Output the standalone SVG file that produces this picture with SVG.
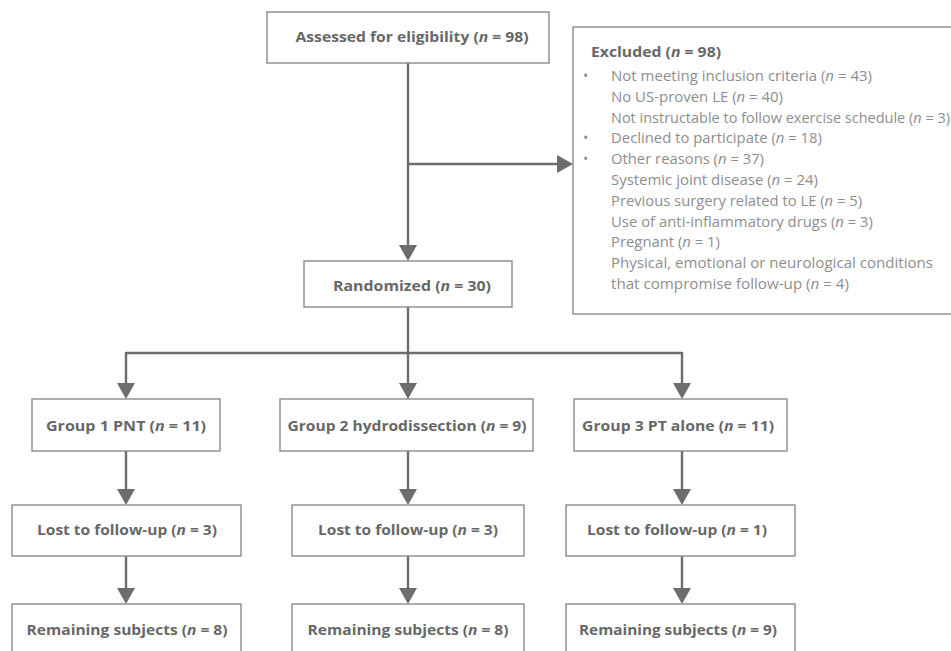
<svg xmlns="http://www.w3.org/2000/svg" width="951" height="651" viewBox="0 0 951 651">
<style>
.box{fill:#fff;stroke:#8a8a8a;stroke-width:1.4}
.lbl{font-family:"Open Sans","Noto Sans",sans-serif;font-weight:700;font-size:15px;fill:#686868;text-anchor:middle}
.lst{font-family:"Open Sans","Noto Sans",sans-serif;font-weight:400;font-size:14px;fill:#8e8e8e}
.hd{font-family:"Open Sans","Noto Sans",sans-serif;font-weight:700;font-size:15px;fill:#686868}
.it{font-style:italic}
.con{fill:none;stroke:#6d6d6d;stroke-width:2.4}
</style>
<defs>
<marker id="ah" markerUnits="userSpaceOnUse" markerWidth="16" markerHeight="18" refX="13" refY="9" orient="auto">
<path d="M0,0 L16,9 L0,18 Z" fill="#6d6d6d"/>
</marker>
</defs>
<rect width="951" height="651" fill="#fff"/>
<g id="connectors">
<path class="con" d="M408,63 V258" marker-end="url(#ah)"/>
<path class="con" d="M408,164 H570" marker-end="url(#ah)"/>
<path class="con" d="M408,307 V396" marker-end="url(#ah)"/>
<path class="con" d="M126,353 H682"/>
<path class="con" d="M126,352 V396" marker-end="url(#ah)"/>
<path class="con" d="M682,352 V396" marker-end="url(#ah)"/>
<path class="con" d="M126,451 V502" marker-end="url(#ah)"/>
<path class="con" d="M408,451 V502" marker-end="url(#ah)"/>
<path class="con" d="M682,451 V502" marker-end="url(#ah)"/>
<path class="con" d="M126,556 V601" marker-end="url(#ah)"/>
<path class="con" d="M408,556 V601" marker-end="url(#ah)"/>
<path class="con" d="M682,556 V601" marker-end="url(#ah)"/>
</g>
<g id="assessed">
<rect class="box" x="267" y="12" width="282" height="51"/>
<text class="lbl" x="412" y="42" textLength="233" lengthAdjust="spacingAndGlyphs">Assessed for eligibility (<tspan class="it">n</tspan> = 98)</text>
</g>
<g id="excluded">
<rect class="box" x="573" y="27" width="400" height="287"/>
<text class="hd" x="591" y="57" textLength="130" lengthAdjust="spacingAndGlyphs">Excluded (<tspan class="it">n</tspan> = 98)</text>
<text class="lst" x="583" y="81">•</text>
<text class="lst" x="611" y="81" textLength="261" lengthAdjust="spacingAndGlyphs">Not meeting inclusion criteria (<tspan class="it">n</tspan> = 43)</text>
<text class="lst" x="611" y="102" textLength="172" lengthAdjust="spacingAndGlyphs">No US-proven LE (<tspan class="it">n</tspan> = 40)</text>
<text class="lst" x="611" y="123" textLength="339" lengthAdjust="spacingAndGlyphs">Not instructable to follow exercise schedule (<tspan class="it">n</tspan> = 3)</text>
<text class="lst" x="583" y="143">•</text>
<text class="lst" x="611" y="143" textLength="211" lengthAdjust="spacingAndGlyphs">Declined to participate (<tspan class="it">n</tspan> = 18)</text>
<text class="lst" x="583" y="164">•</text>
<text class="lst" x="611" y="164" textLength="153" lengthAdjust="spacingAndGlyphs">Other reasons (<tspan class="it">n</tspan> = 37)</text>
<text class="lst" x="611" y="185" textLength="207" lengthAdjust="spacingAndGlyphs">Systemic joint disease (<tspan class="it">n</tspan> = 24)</text>
<text class="lst" x="611" y="206" textLength="251" lengthAdjust="spacingAndGlyphs">Previous surgery related to LE (<tspan class="it">n</tspan> = 5)</text>
<text class="lst" x="611" y="227" textLength="262" lengthAdjust="spacingAndGlyphs">Use of anti-inflammatory drugs (<tspan class="it">n</tspan> = 3)</text>
<text class="lst" x="611" y="247" textLength="109" lengthAdjust="spacingAndGlyphs">Pregnant (<tspan class="it">n</tspan> = 1)</text>
<text class="lst" x="611" y="268" textLength="322" lengthAdjust="spacingAndGlyphs">Physical, emotional or neurological  conditions</text>
<text class="lst" x="611" y="289" textLength="238" lengthAdjust="spacingAndGlyphs">that compromise follow-up (<tspan class="it">n</tspan> = 4)</text>
</g>
<g id="randomized">
<rect class="box" x="304" y="261" width="208" height="46"/>
<text class="lbl" x="412" y="291" textLength="158" lengthAdjust="spacingAndGlyphs">Randomized (<tspan class="it">n</tspan> = 30)</text>
</g>
<g id="group1">
<rect class="box" x="32" y="399" width="188" height="52"/>
<text class="lbl" x="126" y="431" textLength="160" lengthAdjust="spacingAndGlyphs">Group 1 PNT (<tspan class="it">n</tspan> = 11)</text>
</g>
<g id="group2">
<rect class="box" x="280" y="399" width="253" height="52"/>
<text class="lbl" x="407" y="431" textLength="239" lengthAdjust="spacingAndGlyphs">Group 2 hydrodissection (<tspan class="it">n</tspan> = 9)</text>
</g>
<g id="group3">
<rect class="box" x="574" y="399" width="213" height="52"/>
<text class="lbl" x="678" y="431" textLength="192" lengthAdjust="spacingAndGlyphs">Group 3 PT alone (<tspan class="it">n</tspan> = 11)</text>
</g>
<g id="lost1">
<rect class="box" x="12" y="505" width="229" height="51"/>
<text class="lbl" x="127" y="535" textLength="180" lengthAdjust="spacingAndGlyphs">Lost to follow-up (<tspan class="it">n</tspan> = 3)</text>
</g>
<g id="lost2">
<rect class="box" x="292" y="505" width="232" height="51"/>
<text class="lbl" x="408" y="535" textLength="180" lengthAdjust="spacingAndGlyphs">Lost to follow-up (<tspan class="it">n</tspan> = 3)</text>
</g>
<g id="lost3">
<rect class="box" x="566" y="505" width="229" height="51"/>
<text class="lbl" x="677" y="535" textLength="180" lengthAdjust="spacingAndGlyphs">Lost to follow-up (<tspan class="it">n</tspan> = 1)</text>
</g>
<g id="remaining1">
<rect class="box" x="12" y="604" width="229" height="60"/>
<text class="lbl" x="127" y="635" textLength="201" lengthAdjust="spacingAndGlyphs">Remaining subjects (<tspan class="it">n</tspan> = 8)</text>
</g>
<g id="remaining2">
<rect class="box" x="292" y="604" width="232" height="60"/>
<text class="lbl" x="408" y="635" textLength="201" lengthAdjust="spacingAndGlyphs">Remaining subjects (<tspan class="it">n</tspan> = 8)</text>
</g>
<g id="remaining3">
<rect class="box" x="566" y="604" width="229" height="60"/>
<text class="lbl" x="678" y="635" textLength="198" lengthAdjust="spacingAndGlyphs">Remaining subjects (<tspan class="it">n</tspan> = 9)</text>
</g>
</svg>
